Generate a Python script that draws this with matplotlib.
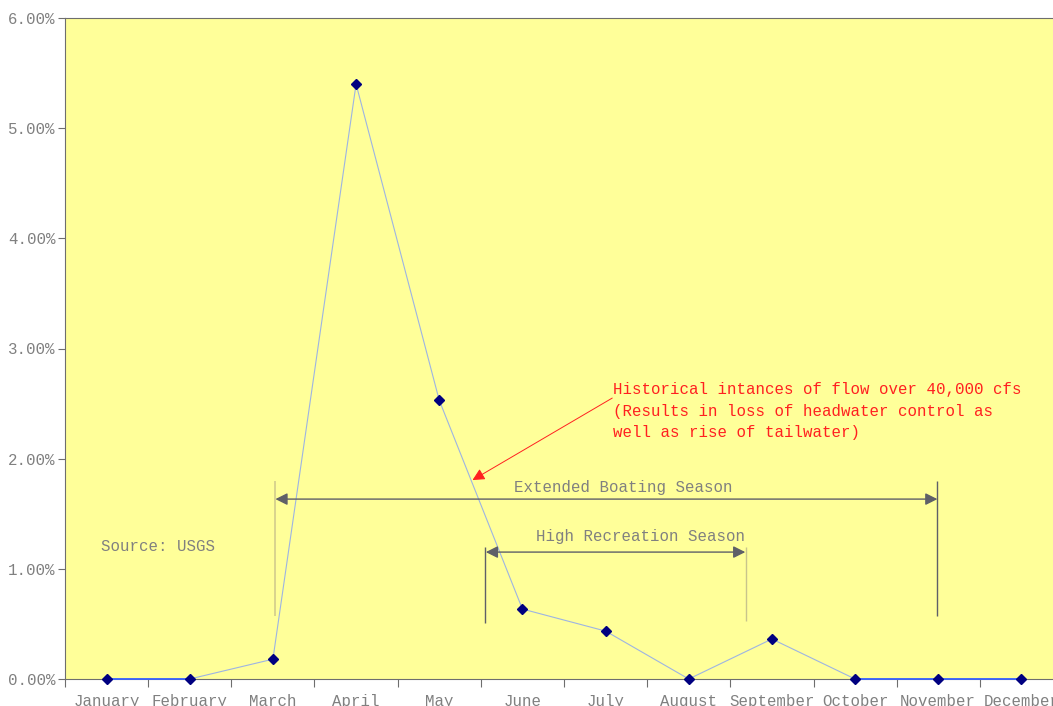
import numpy as np
import matplotlib
matplotlib.use('Agg')
import matplotlib.pyplot as plt
from matplotlib.ticker import FuncFormatter

MONTHS = ['January', 'February', 'March', 'April', 'May', 'June', 'July',
          'August', 'September', 'October', 'November', 'December']
FLOW_PCT = [0.0, 0.0, 0.18, 5.40, 2.53, 0.635, 0.435, 0.0, 0.363, 0.0, 0.0, 0.0]

EXT_SEASON = (2.03, 9.99)
HIGH_SEASON = (4.55, 7.69)

GRAY = '#808080'
SPINE = '#6E6E6E'
ARROW = '#5F6068'

plt.rcParams['font.family'] = ['Liberation Mono', 'DejaVu Sans Mono']
plt.rcParams['font.size'] = 11.3

fig = plt.figure(figsize=(10.53, 7.06), dpi=100)
# plot area runs past the right edge of the figure like the original
ax = fig.add_axes([65 / 1053, 27 / 706, 998 / 1053, 661 / 706])
ax.set_facecolor('#FFFF99')

x = np.arange(len(MONTHS))
y = np.array(FLOW_PCT) / 100

ax.plot(x, y, color='#9DB4E3', lw=0.8, zorder=3, clip_on=False)
# flat segments along the baseline show up darker blue
for i in range(len(y) - 1):
    if y[i] == 0 and y[i + 1] == 0:
        ax.plot(x[i:i + 2], y[i:i + 2], color='#2F5BFF', lw=1.2, zorder=3, clip_on=False)
ax.plot(x, y, ls='none', marker='D', ms=5, color='#000080', zorder=4, clip_on=False)

ax.set_xlim(-0.5, 11.5)
ax.set_ylim(0, 0.06)
ax.set_yticks(np.arange(0, 0.061, 0.01))
ax.yaxis.set_major_formatter(FuncFormatter(lambda v, p: f'{v * 100:.2f}%'))

ax.set_xticks(np.arange(-0.5, 12, 1))
ax.set_xticklabels([])
ax.set_xticks(x, minor=True)
ax.set_xticklabels(MONTHS, minor=True)
ax.tick_params(axis='x', which='major', length=6, color=SPINE, direction='out')
ax.tick_params(axis='x', which='minor', length=0, pad=11, labelcolor=GRAY)
ax.tick_params(axis='y', length=5, color=SPINE, pad=2, labelcolor=GRAY)

for s in ['left', 'bottom', 'top']:
    ax.spines[s].set_color(SPINE)
ax.spines['right'].set_visible(False)

# season brackets
ax.vlines(EXT_SEASON[0] - 0.01, 0.00572, 0.01797, color='#D2CC8C', lw=1.2)
ax.vlines(EXT_SEASON[1], 0.00572, 0.01797, color=ARROW, lw=1.0)
ax.annotate('', xy=(EXT_SEASON[0], 0.01633), xytext=(EXT_SEASON[1], 0.01633),
            arrowprops=dict(arrowstyle='<|-|>', color=ARROW, lw=1.0,
                            mutation_scale=18, shrinkA=0, shrinkB=0))
ax.text(6.21, 0.01742, 'Extended Boating Season', color=GRAY,
        ha='center', va='center')

ax.vlines(HIGH_SEASON[0], 0.00508, 0.01198, color=ARROW, lw=1.0)
ax.vlines(HIGH_SEASON[1], 0.00526, 0.01198, color='#C8C48C', lw=1.0)
ax.annotate('', xy=(HIGH_SEASON[0] + 0.01, 0.01152), xytext=(HIGH_SEASON[1] - 0.01, 0.01152),
            arrowprops=dict(arrowstyle='<|-|>', color=ARROW, lw=1.0,
                            mutation_scale=18, shrinkA=0, shrinkB=0))
ax.text(6.42, 0.01289, 'High Recreation Season', color=GRAY,
        ha='center', va='center')

ax.text(-0.07, 0.01207, 'Source: USGS', color=GRAY, ha='left', va='center')

ax.annotate('', xy=(4.40, 0.01806), xytext=(6.08, 0.0255),
            arrowprops=dict(arrowstyle='-|>', color='#FF2020', lw=0.7,
                            mutation_scale=18, shrinkA=0, shrinkB=0))
ax.text(6.09, 0.02432, 'Historical intances of flow over 40,000 cfs\n'
        '(Results in loss of headwater control as\n'
        'well as rise of tailwater)', color='#FF2020', ha='left', va='center',
        linespacing=1.55)

fig.savefig('out.png', dpi=100, facecolor='white')
